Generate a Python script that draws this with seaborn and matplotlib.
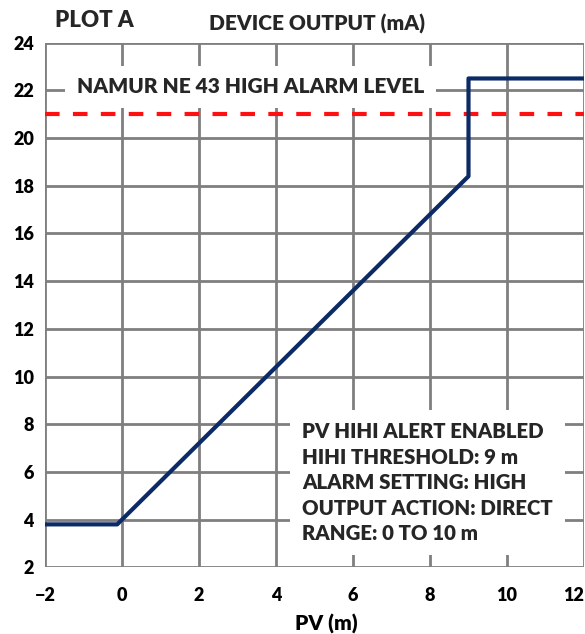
import matplotlib
matplotlib.use("Agg")
import matplotlib.pyplot as plt
import seaborn as sns
import pandas as pd

pv = [-2.0, -0.125, 9.0, 9.0, 12.0]
output_ma = [3.8, 3.8, 18.4, 22.5, 22.5]
alarm_level = 21.0
x_ticks = [-2, 0, 2, 4, 6, 8, 10, 12]
y_ticks = [2, 4, 6, 8, 10, 12, 14, 16, 18, 20, 22, 24]
info_lines = ["PV HIHI ALERT ENABLED", "HIHI THRESHOLD: 9 m", "ALARM SETTING: HIGH",
              "OUTPUT ACTION: DIRECT", "RANGE: 0 TO 10 m"]

sns.set_theme(style="white")
plt.rcParams['font.family'] = ['Lato', 'DejaVu Sans']
plt.rcParams['font.weight'] = 'heavy'
W = 'heavy'

FIG_W, FIG_H = 585, 634
fig = plt.figure(figsize=(5.85, 6.34), dpi=100)
ax = fig.add_axes([45 / FIG_W, 1 - 567.3 / FIG_H, (584 - 45) / FIG_W, (567.3 - 42.7) / FIG_H])

df = pd.DataFrame({"pv": pv, "ma": output_ma})
ax.axhline(alarm_level, color="#ff1010", lw=3, ls=(0, (3.5, 3.2)), zorder=3)
sns.lineplot(data=df, x="pv", y="ma", sort=False, estimator=None, ax=ax,
             color="#0b2a66", lw=3, zorder=4)

ax.set_xlim(-2, 12)
ax.set_ylim(2, 24)
ax.set_xticks(x_ticks)
ax.set_yticks(y_ticks)
ax.grid(True, color="#7f7f7f", lw=2, zorder=0)
ax.set_axisbelow(True)
for s in ax.spines.values():
    s.set_visible(False)
ax.tick_params(length=0, labelsize=13)
ax.tick_params(axis='x', pad=14)
ax.tick_params(axis='y', pad=8)
for lab in ax.get_xticklabels() + ax.get_yticklabels():
    lab.set_fontweight(W)
    lab.set_color('black')
xl = ax.get_xticklabels()
xl[-1].set_horizontalalignment('right')
ax.set_xlabel("PV (m)", fontsize=15, fontweight=W, color='black')
ax.xaxis.set_label_coords((326.5 - 45) / 539, (567.3 - 614) / 524.6)
ax.set_ylabel("")

fig.text(55 / FIG_W, 1 - 20.5 / FIG_H, "PLOT A", fontsize=16, fontweight=W,
         ha='left', va='center')
fig.text(317 / FIG_W, 1 - 23.5 / FIG_H, "DEVICE OUTPUT (mA)", fontsize=15, fontweight=W,
         ha='center', va='center')

ax.text(-1.17, 22.15, "NAMUR NE 43 HIGH ALARM LEVEL", fontsize=15, fontweight=W,
        ha='left', va='center', zorder=5,
        bbox=dict(facecolor='white', edgecolor='none', boxstyle='square,pad=0.55'))

ax.text(4.67, 5.55, "\n".join(info_lines), fontsize=14.7, fontweight=W,
        ha='left', va='center', linespacing=1.4, zorder=5,
        bbox=dict(facecolor='white', edgecolor='none', boxstyle='square,pad=0.6'))

fig.savefig("out.png", dpi=100)
